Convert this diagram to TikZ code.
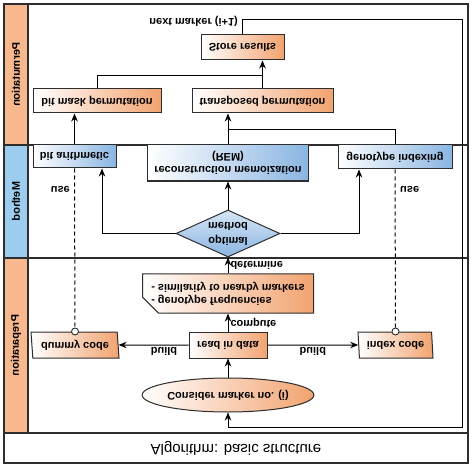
\documentclass[tikz,border=0pt]{standalone}
\usepackage{fontspec}
\setmainfont{Liberation Sans}
\usetikzlibrary{shapes.geometric,shapes.misc,arrows.meta}

\definecolor{bandorange}{RGB}{248,184,142}
\definecolor{bandblue}{RGB}{156,204,238}
\definecolor{boxorange}{RGB}{242,163,112}
\definecolor{boxblue}{RGB}{138,181,226}
\definecolor{laneline}{RGB}{45,45,45}

\tikzset{
  box/.style={draw=laneline, line width=1pt, inner sep=0pt, align=center, font=\fontsize{11}{13}\selectfont\bfseries},
  obox/.style={box, left color=white, right color=boxorange},
  bbox/.style={box, left color=white, right color=boxblue},
  iobox/.style={obox, trapezium, trapezium left angle=80, trapezium right angle=100, trapezium stretches body, minimum height=26pt},
  port/.style={circle, draw=laneline, fill=white, line width=0.9pt, minimum size=7pt, inner sep=0pt},
  lbl/.style={font=\fontsize{11}{13}\selectfont\bfseries, inner sep=2pt},
  conn/.style={line width=1pt},
  arr/.style={conn, -{Stealth[length=8pt,width=6.5pt]}},
  usedash/.style={conn, dash pattern=on 4pt off 3pt},
  lane/.style={draw=laneline, line width=1.4pt},
}

\begin{document}
\begin{tikzpicture}[x=1pt, y=1pt, yscale=-1, transform shape]
        \useasboundingbox (0,0) rectangle (474,468);

        % lanes
        \fill[bandorange] (4,4) rectangle (28,145);
        \fill[bandblue] (4,145) rectangle (28,258);
        \fill[bandorange] (4,258) rectangle (28,433);
        \draw[lane] (4,4) rectangle (468,463);
        \draw[lane] (28,4) -- (28,433);
        \draw[lane] (4,145) -- (468,145);
        \draw[lane] (4,258) -- (468,258);
        \draw[lane] (4,433) -- (468,433);

        % lane labels
        \node[lbl, rotate=90] (permlbl) at (16,74.5) {Permutation};
        \node[lbl, rotate=90] (methlbl) at (16,201.5) {Method};
        \node[lbl, rotate=90] (preplbl) at (16,345.5) {Preparation};
        \node[font=\fontsize{15}{17}\selectfont] (title) at (236,448) {Algorithm: basic structure};

        % permutation nodes
        \node[obox, minimum width=83pt, minimum height=25pt] (store) at (242.5,47.5) {Store results};
        \node[obox, minimum width=128pt, minimum height=24pt] (bitmask) at (97,101) {bit mask permutation};
        \node[obox, minimum width=141pt, minimum height=24pt] (transperm) at (262.5,101) {transposed permutation};

        % method nodes
        \node[bbox, minimum width=83pt, minimum height=23pt] (bitarith) at (74.5,156.5) {bit arithmetic};
        \node[bbox, minimum width=161pt, minimum height=36pt] (rem) at (228,163) {reconstruction memoization\\(REM)};
        \node[bbox, minimum width=114pt, minimum height=24pt] (genoidx) at (395,157) {genotype indexing};
        \node[box, diamond, aspect=2.2, top color=boxblue!35, bottom color=boxblue, minimum width=104pt, minimum height=47pt, font=\fontsize{11}{15}\selectfont\bfseries] (optmethod) at (228,233.5) {optimal\\method};

        % preparation nodes
        \node[obox, chamfered rectangle, chamfered rectangle corners=north west, chamfered rectangle xsep=8pt, chamfered rectangle ysep=8pt, align=left, minimum width=171pt, minimum height=37pt] (freqs) at (228,293.5) {- genotype frequencies\\- similarity to nearby markers};
        \node[obox, minimum width=78pt, minimum height=26pt] (readdata) at (228,345) {read in data};
        \node[iobox, minimum width=88pt] (dummycode) at (75,345) {dummy code};
        \node[iobox, minimum width=75pt] (indexcode) at (395.5,345) {index code};
        \node[obox, ellipse, minimum width=140pt, minimum height=34pt] (consider) at (228,395) {Consider marker no. (i)};
        \node[port] (dummyport) at (dummycode.south) {};
        \node[port] (indexport) at (indexcode.south) {};

        % preparation lines
        \draw[arr] (consider.south) -- (readdata.north);
        \draw[arr] (readdata.west) -- (dummycode.east) node[lbl, pos=0.35, above] (buildl) {build};
        \draw[arr] (readdata.east) -- (indexcode.west) node[lbl, midway, above] (buildr) {build};
        \draw[arr] (readdata.south) -- (freqs.north) node[lbl, midway, right] (computel) {compute};
        \draw[arr] (freqs.south) -- (optmethod.north) node[lbl, midway, right] (determl) {determine};

        % method lines
        \draw[arr] (optmethod.west) -| ([xshift=27.5pt]bitarith.north);
        \draw[arr] (optmethod.east) -| ([xshift=-36pt]genoidx.north);
        \draw[arr] (optmethod.south) -- (rem.north);
        \draw[usedash] (bitarith.north) -- (dummyport);
        \draw[usedash] (genoidx.north) -- (indexport);
        \node[lbl, anchor=east] (usel) at (72,189) {use};
        \node[lbl, anchor=west] (user) at (398,189) {use};

        % permutation lines
        \coordinate (remjoin) at (228,130);
        \coordinate (permjoin) at (262.5,76);
        \draw[arr] (bitarith.south) -- (bitarith.south |- bitmask.north);
        \draw[arr] (rem.south) -- (rem.south |- transperm.north);
        \draw[conn] (genoidx.south) |- (remjoin);
        \draw[conn] (bitmask.south) |- (permjoin);
        \draw[arr] (transperm.south) -- (transperm.south |- store.north);

        % loop back
        \coordinate (looptop) at (462,20);
        \coordinate (loopbot) at (462,427);
        \draw[arr] (store.south) |- (looptop) -- (loopbot) -| (consider.north);
        \node[lbl, anchor=east] (nextl) at (240,21) {next marker (i+1)};
\end{tikzpicture}
\end{document}
